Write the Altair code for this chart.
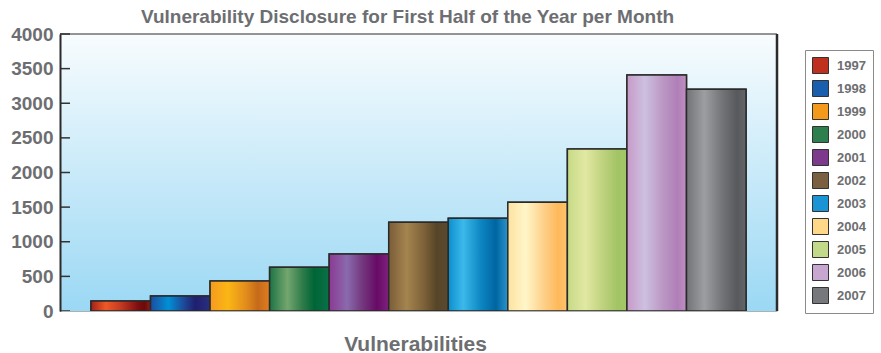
import altair as alt
import pandas as pd

# ---- data ----
years = ["1997", "1998", "1999", "2000", "2001", "2002", "2003", "2004", "2005", "2006", "2007"]
values = [144, 217, 433, 631, 823, 1281, 1339, 1570, 2339, 3408, 3201]
tick_values = [0, 500, 1000, 1500, 2000, 2500, 3000, 3500, 4000]

# ---- styles ----
legend_colors = ["#c0301e", "#1a5fae", "#f39a1c", "#2e7f4e", "#7d3a8c", "#7a6040",
                 "#1a94d4", "#fed789", "#c3d98a", "#c7a6d0", "#77787b"]
bar_stops = {
    "1997": [(0, "#a0201a"), (0.25, "#ee5a26"), (0.5, "#c43a22"), (0.8, "#7a0e10"), (0.9, "#6a0a0a"), (1, "#8c1f1a")],
    "1998": [(0, "#1e4c9e"), (0.3, "#0090d6"), (0.55, "#1e4b9a"), (0.75, "#1f1f6e"), (1, "#28307f")],
    "1999": [(0, "#f59a20"), (0.3, "#fbb615"), (0.6, "#e28d1c"), (0.8, "#c56a1b"), (1, "#e07d1f")],
    "2000": [(0, "#1d7444"), (0.3, "#73a66f"), (0.55, "#2f7c4a"), (0.75, "#006536"), (1, "#0a7048")],
    "2001": [(0, "#8a3a92"), (0.3, "#8a6aae"), (0.55, "#74397e"), (0.8, "#660b66"), (1, "#80207e")],
    "2002": [(0, "#7a5c38"), (0.3, "#a4854f"), (0.6, "#7c6038"), (0.8, "#574528"), (1, "#5a4a2e")],
    "2003": [(0, "#0b8fcd"), (0.25, "#3cb9ea"), (0.55, "#0c86c2"), (0.8, "#0065a2"), (1, "#2a94cc")],
    "2004": [(0, "#fde2a0"), (0.3, "#fff6c8"), (0.6, "#fed08a"), (0.85, "#fdb95a"), (1, "#fcc46c")],
    "2005": [(0, "#c5da86"), (0.3, "#e2e8a2"), (0.6, "#bed27e"), (0.85, "#a2c464"), (1, "#a3c766")],
    "2006": [(0, "#c79ac8"), (0.3, "#cdc0e0"), (0.6, "#bb98c4"), (0.85, "#b07fb8"), (1, "#bf8fc2")],
    "2007": [(0, "#727377"), (0.3, "#9c9ea1"), (0.6, "#737477"), (0.85, "#58595c"), (1, "#646568")],
}
W, H = 717, 277
FONT = "Liberation Sans"
GRAY = "#6d6e71"

df = pd.DataFrame({"year": years, "value": values})
one = pd.DataFrame({"k": [0]})

x_enc = alt.X(
    "year:N", sort=years,
    scale=alt.Scale(paddingInner=0, paddingOuter=0.52),
    axis=alt.Axis(labels=False, ticks=False, domainColor="#b0b0b0", domainWidth=1,
                  title="Vulnerabilities", titleFont=FONT, titleFontSize=21,
                  titleFontWeight="bold", titleColor=GRAY, titleBaseline="alphabetic",
                  titleX=355, titleY=39, zindex=1),
)
y_enc = alt.Y(
    "value:Q",
    scale=alt.Scale(domain=[0, 4000], nice=False),
    axis=alt.Axis(values=tick_values, format="d", ticks=False, grid=False, domainColor="#2b2b2b",
                  domainWidth=2, labelFont=FONT, labelFontSize=19, labelFontWeight="bold",
                  labelColor=GRAY, labelPadding=7, labelFlush=False, title=None, zindex=1),
)

bg = alt.Chart(one).mark_rect(
    fill=alt.LinearGradient(
        gradient="linear", x1=0, x2=0, y1=0, y2=1,
        stops=[alt.GradientStop(offset=0, color="#f8fcfe"),
               alt.GradientStop(offset=0.5, color="#c9eaf9"),
               alt.GradientStop(offset=1, color="#9bd8f4")],
    )
).encode(x=alt.value(0), x2=alt.value(W), y=alt.value(0), y2=alt.value(H))

base = alt.Chart(df).mark_bar(stroke="#2a2a2a", strokeWidth=1.5).encode(
    x=x_enc, y=y_enc,
    color=alt.Color(
        "year:N", sort=years,
        scale=alt.Scale(domain=years, range=legend_colors),
        legend=alt.Legend(
            title=None, orient="none", legendX=745, legendY=16,
            symbolType="square", symbolSize=256, symbolStrokeColor="#333333",
            symbolStrokeWidth=1, labelFont=FONT, labelFontSize=13,
            labelFontWeight="bold", labelColor=GRAY, labelOffset=8,
            rowPadding=2, padding=7, strokeColor="#8a8a8a", fillColor="white",
        ),
    ),
)

grad_layers = []
for yr in years:
    grad_layers.append(
        alt.Chart(df).transform_filter(alt.datum.year == yr).mark_bar(
            fill=alt.LinearGradient(
                gradient="linear", x1=0, x2=1, y1=0, y2=0,
                stops=[alt.GradientStop(offset=o, color=c) for o, c in bar_stops[yr]],
            ),
            stroke="#2a2a2a", strokeWidth=1.5,
        ).encode(x=x_enc, y=y_enc)
    )

ticks = alt.Chart(pd.DataFrame({"value": tick_values})).mark_rule(
    color="#333333", strokeWidth=1.5
).encode(x=alt.value(0), x2=alt.value(10), y=y_enc)

top_border = alt.Chart(one).mark_rule(color="#2b2b2b", strokeWidth=1).encode(
    x=alt.value(0), x2=alt.value(W), y=alt.value(0))
right_border = alt.Chart(one).mark_rule(color="#2b2b2b", strokeWidth=2.5).encode(
    x=alt.value(W), y=alt.value(0), y2=alt.value(H))

chart = alt.layer(bg, base, *grad_layers, ticks, top_border, right_border).properties(
    width=W, height=H,
    autosize=alt.AutoSizeParams(type="none"),
    padding={"left": 60, "top": 34, "right": 104, "bottom": 42},
    title=alt.TitleParams(
        "Vulnerability Disclosure for First Half of the Year per Month",
        font=FONT, fontSize=19, fontWeight="bold", color=GRAY,
        anchor="middle", frame="group", dx=-11, dy=26, offset=9, baseline="alphabetic",
    ),
    background="white",
).configure_view(stroke="transparent")

chart.save("out.html", embed_options={"renderer": "svg", "actions": False})
